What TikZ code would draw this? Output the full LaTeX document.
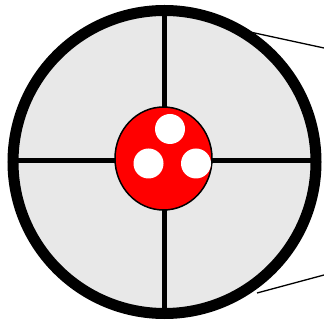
\documentclass[tikz,border=0pt]{standalone}
\begin{document}
\begin{tikzpicture}[x=1pt,y=-1pt,
  outer/.style={draw=black,line width=11pt,fill={rgb,255:red,232;green,232;blue,232}},
  crossline/.style={line width=5pt},
  hub/.style={draw=black,line width=1.5pt,fill=red},
  dot/.style={fill=white},
  leader/.style={line width=1.3pt}]
\useasboundingbox (0,0) rectangle (324,320);
\coordinate (c) at (164.5,162);
\draw[outer] (c) circle (151.5);
\coordinate (t) at (164,16);
\coordinate (b) at (164,308);
\coordinate (l) at (18,161);
\coordinate (r) at (311,161);
\draw[crossline] (t) -- (b);
\draw[crossline] (l) -- (r);
\draw[hub] (163.5,158.5) ellipse (48.5 and 51.5);
\fill[dot] (170,129) circle (15);
\fill[dot] (148.5,163.5) circle (15);
\fill[dot] (196,163.5) circle (15);
\coordinate (a1) at (250,32);
\coordinate (a2) at (324,48);
\coordinate (b1) at (257,293);
\coordinate (b2) at (324,275);
\draw[leader] (a1) -- (a2);
\draw[leader] (b1) -- (b2);
\end{tikzpicture}
\end{document}
